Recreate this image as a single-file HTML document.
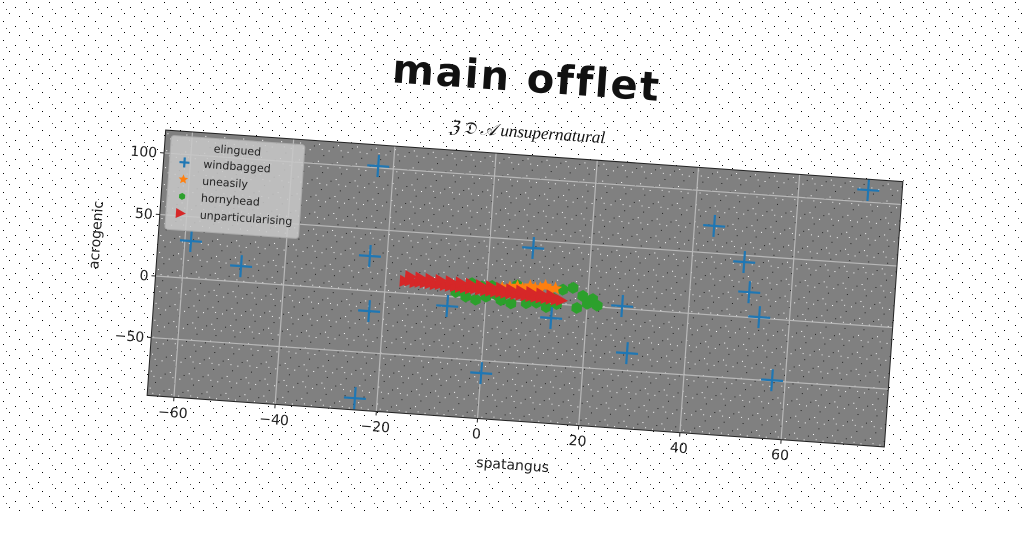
<!DOCTYPE html>
<html><head><meta charset="utf-8"><style>
html,body{margin:0;padding:0;background:#fff;width:1024px;height:512px;overflow:hidden}
#wrap{position:absolute;left:0;top:0;width:1024px;height:512px;transform-origin:525px 288.5px;transform:rotate(4deg)}
svg text{font-family:"DejaVu Sans","Liberation Sans",sans-serif}
</style></head><body>
<svg width="1024" height="512" style="position:absolute;left:0;top:0">
<defs><pattern id="bgn" width="23" height="19" patternUnits="userSpaceOnUse">
<rect x="3" y="2" width="1" height="1" fill="#000"/><rect x="15" y="7" width="1" height="1" fill="#000"/><rect x="9" y="13" width="1" height="1" fill="#000"/><rect x="19" y="16" width="1" height="1" fill="#000"/><rect x="6" y="9" width="1" height="1" fill="#555"/></pattern></defs>
<rect width="1024" height="512" fill="url(#bgn)"/></svg>
<div id="wrap">
<svg id="chart" width="1024" height="512">
<defs><pattern id="pn" width="19" height="17" patternUnits="userSpaceOnUse">
<rect x="2" y="3" width="1" height="1" fill="#fff"/><rect x="12" y="9" width="1" height="1" fill="#fff"/><rect x="7" y="14" width="1" height="1" fill="#222"/><rect x="16" y="5" width="1" height="1" fill="#222"/><rect x="5" y="8" width="1" height="1" fill="#eee"/></pattern></defs>
<text x="512" y="92" text-anchor="middle" font-size="40" font-weight="bold" letter-spacing="2" fill="#111">main offlet</text>
<text x="516" y="138" text-anchor="middle" font-size="17" font-style="italic" fill="#111" style="font-family:'Liberation Serif',serif">ℨ 𝔇 𝒜 unsupernatural</text>
<g id="plot" transform="translate(155.5,155.5)"></g>
<text x="525" y="470" text-anchor="middle" font-size="14" fill="#222">spatangus</text>
<text transform="translate(98,265) rotate(-90)" text-anchor="middle" font-size="14" fill="#222">acrogenic</text>
</svg></div>
<script>
const xTicks=[-60,-40,-20,0,20,40,60];
const yTicks=[-50,0,50,100];
const blueX=[-58.8,-48.6,-23,-23.4,-22.8,-24.4,-7.5,0.1,8.6,13.1,26.9,28.5,43.9,50.3,51.7,54,57.4,73.7];
const blueY=[30.3,12.8,101.5,28.3,-16.3,-87.5,-7.8,-60.1,44,-11.6,2.1,-35.7,72.1,44.6,20.5,0.9,-49.4,109.8];
const orangeX=[3,4.5,6,7,8.5,9.5,10.5,11.5,12.5,13.5,7.5,10];
const orangeY=[10,11,12,10.5,13,11.5,12,14,11,12.5,9.5,9];
const greenX=[-5,-3,-1,1,2,4,6,-4,-2,0,3,15,17,19,21,20,14,18,22,13,12,10,8,-6,5];
const greenY=[9,12,10,11,4,6,13,1,-1,2,0,12,14,8,6,2,0,-2,1,5,-3,0,-1,4,-2];
const redX=[-16,-15,-14,-13,-12,-11,-10,-9,-8,-7,-6,-5,-4,-3,-2,-1,0,1,2,3,4,5,6,7,8,9,10,11,12,13,14,15,-15,-13,-11,-9,-7,-5,-3,-1,1,3,5,7,9,11,13];
const redY=[10,10.5,9.5,10,9.8,9.5,9,9.3,8.8,8.5,8.6,8.2,8,7.6,7.8,7.2,7,6.8,6.5,6.4,6,5.8,5.5,5.3,5,4.8,4.5,4.2,4,3.8,3.4,3.2,14,13.5,13,12.6,12.2,11.8,11.3,10.8,10.4,9.8,9.2,8.6,8,7.4,6.6];
const W=739,H=266,xmin=-65.3,xmax=80.4,ymin=-97,ymax=118.6;
const sx=v=>(v-xmin)/(xmax-xmin)*W, sy=v=>H-(v-ymin)/(ymax-ymin)*H;
const NS='http://www.w3.org/2000/svg';
const plot=document.getElementById('plot');
function mk(t,a,p){const e=document.createElementNS(NS,t);for(const k in a)e.setAttribute(k,a[k]);(p||plot).appendChild(e);return e;}
const bg=mk('rect',{x:0,y:0,width:W,height:H,fill:'#808080'});


mk('rect',{x:0,y:0,width:W,height:H,fill:'url(#pn)'});
xTicks.forEach(t=>{const x=sx(t);
 const g=mk('line',{x1:x,x2:x,y1:0,y2:H,stroke:'#b8b8b8','stroke-width':1.2});
 
 
 mk('line',{x1:x,x2:x,y1:H,y2:H+4,stroke:'#222'});
 const l=mk('text',{x:x,y:H+20,'text-anchor':'middle','font-size':14,fill:'#222'});l.textContent=t<0?'−'+(-t):t;
 
 });
yTicks.forEach(t=>{const y=sy(t);
 const g=mk('line',{x1:0,x2:W,y1:y,y2:y,stroke:'#b8b8b8','stroke-width':1.2});
 
 
 mk('line',{x1:-4,x2:0,y1:y,y2:y,stroke:'#222'});
 const l=mk('text',{x:-7,y:y+5,'text-anchor':'end','font-size':14,fill:'#222'});l.textContent=t<0?'−'+(-t):t;
 
 });
function plus(x,y,s,p){const g=mk('g',{},p);mk('line',{x1:x-s,x2:x+s,y1:y,y2:y,stroke:'#1f77b4','stroke-width':2.2},g);mk('line',{x1:x,x2:x,y1:y-s,y2:y+s,stroke:'#1f77b4','stroke-width':2.2},g);return g;}
function star(x,y,r,p){let d='';for(let i=0;i<10;i++){const a=Math.PI/5*i-Math.PI/2,rr=i%2?r*0.45:r;d+=(i?'L':'M')+(x+rr*Math.cos(a))+' '+(y+rr*Math.sin(a));}return mk('path',{d:d+'Z',fill:'#ff7f0e'},p);}
function hex(x,y,r,p){let d='';for(let i=0;i<6;i++){const a=Math.PI/3*i+Math.PI/6;d+=(i?'L':'M')+(x+r*Math.cos(a))+' '+(y+r*Math.sin(a));}return mk('path',{d:d+'Z',fill:'#2ca02c'},p);}
function tri(x,y,r,p){return mk('path',{d:`M${x+r} ${y}L${x-r} ${y-r}L${x-r} ${y+r}Z`,fill:'#d62728'},p);}
greenX.forEach((v,i)=>{const e=hex(sx(v),sy(greenY[i]),6);
 
 });
blueX.forEach((v,i)=>{const e=plus(sx(v),sy(blueY[i]),11);
 
 });
orangeX.forEach((v,i)=>{const e=star(sx(v),sy(orangeY[i]),7);
 
 });
redX.forEach((v,i)=>{const e=tri(sx(v),sy(redY[i]),6);
 
 });
mk('rect',{x:0,y:0,width:W,height:H,fill:'none',stroke:'#222','stroke-width':1});
const lg=mk('g',{transform:'translate(6,5)'});


mk('rect',{x:0,y:0,width:134,height:94,rx:3,fill:'#c8c8c8','fill-opacity':0.85,stroke:'#aaa'},lg);
const lt=mk('text',{x:67,y:14,'text-anchor':'middle','font-size':11,fill:'#222'},lg);lt.textContent='elingued';
const names=['windbagged','uneasily','hornyhead','unparticularising'];
const fns=[(x,y)=>plus(x,y,5,lg),(x,y)=>star(x,y,5,lg),(x,y)=>hex(x,y,3.5,lg),(x,y)=>tri(x,y,5,lg)];
names.forEach((n,i)=>{const y=30+i*17;fns[i](15,y-4);
 const t=mk('text',{x:34,y:y,'font-size':11,fill:'#222'},lg);t.textContent=n;
 
 });
</script>
</body></html>
